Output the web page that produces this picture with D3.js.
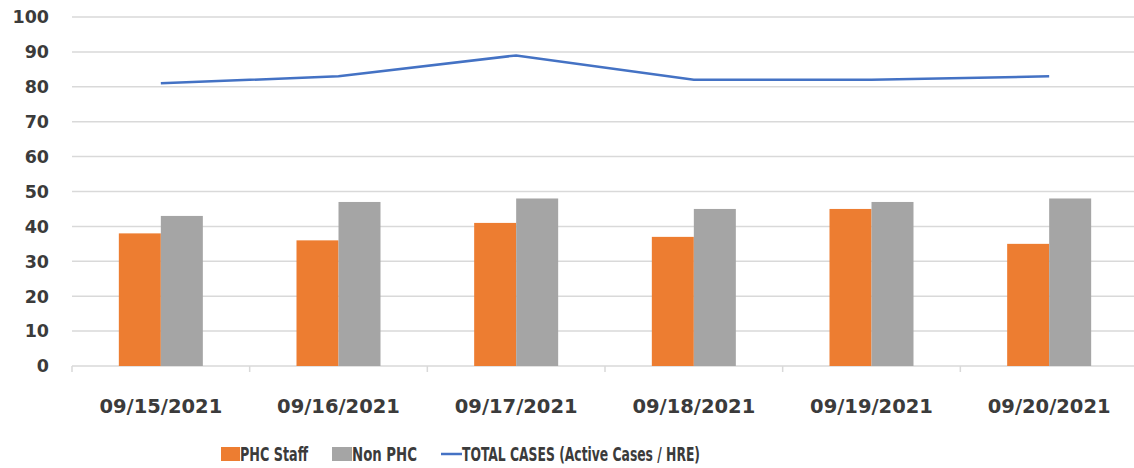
<!DOCTYPE html>
<html lang="en">
<head>
<meta charset="UTF-8">
<title>PHC cases</title>
<script src="https://d3js.org/d3.v7.min.js"></script>
<style>
  html, body { margin: 0; padding: 0; background: #fff; }
  svg { display: block; }
</style>
</head>
<body>
<div id="chart"></div>
<script>
// data
const dates = ["09/15/2021", "09/16/2021", "09/17/2021", "09/18/2021", "09/19/2021", "09/20/2021"];
const phcStaff = [38, 36, 41, 37, 45, 35];
const nonPhc = [43, 47, 48, 45, 47, 48];
const totalCases = [81, 83, 89, 82, 82, 83];
const yTicks = [0, 10, 20, 30, 40, 50, 60, 70, 80, 90, 100];
const seriesNames = ["PHC Staff", "Non PHC"];

const width = 1134, height = 468;
const plotLeft = 72, plotRight = 1138, plotTop = 17, plotBottom = 366;

const svg = d3.select("#chart").append("svg")
    .attr("width", width)
    .attr("height", height);

const x0 = d3.scaleBand().domain(dates).range([plotLeft, plotRight]).padding(0);
const x1 = d3.scaleBand().domain(seriesNames).range([0, x0.bandwidth()])
    .paddingInner(0).paddingOuter(1.115);
const y = d3.scaleLinear().domain([0, 100]).range([plotBottom, plotTop]);

// gridlines
svg.append("g")
    .selectAll("line")
    .data(yTicks)
    .enter().append("line")
    .attr("x1", plotLeft)
    .attr("x2", plotRight)
    .attr("y1", d => y(d))
    .attr("y2", d => y(d))
    .attr("stroke", "#d9d9d9")
    .attr("stroke-width", 1.5);

// y labels
svg.append("g")
    .selectAll("text")
    .data(yTicks)
    .enter().append("text")
    .attr("x", 49)
    .attr("y", d => y(d))
    .attr("dy", "0.36em")
    .attr("text-anchor", "end")
    .attr("font-family", "DejaVu Sans")
    .attr("font-weight", "bold")
    .attr("font-size", 17.5)
    .attr("fill", "#3b3b3b")
    .text(d => d);

// category tick marks on the baseline
const tickPos = dates.map(d => x0(d)).concat([plotRight]);
svg.append("g")
    .selectAll("line")
    .data(tickPos)
    .enter().append("line")
    .attr("x1", d => d)
    .attr("x2", d => d)
    .attr("y1", plotBottom)
    .attr("y2", plotBottom + 6)
    .attr("stroke", "#d9d9d9")
    .attr("stroke-width", 1.5);

// bars
const rows = dates.map((d, i) => ({ date: d, vals: [phcStaff[i], nonPhc[i]] }));
const colors = d3.scaleOrdinal().domain(seriesNames).range(["#ED7D31", "#A5A5A5"]);

svg.append("g")
    .selectAll("g")
    .data(rows)
    .enter().append("g")
    .attr("transform", d => `translate(${x0(d.date)},0)`)
    .selectAll("rect")
    .data(d => seriesNames.map((s, j) => ({ s, v: d.vals[j] })))
    .enter().append("rect")
    .attr("x", d => x1(d.s))
    .attr("width", x1.bandwidth())
    .attr("y", d => y(d.v))
    .attr("height", d => plotBottom - y(d.v))
    .attr("fill", d => colors(d.s));

// total cases line
const line = d3.line()
    .x((d, i) => x0(dates[i]) + x0.bandwidth() / 2)
    .y(d => y(d));

svg.append("path")
    .datum(totalCases)
    .attr("d", line)
    .attr("fill", "none")
    .attr("stroke", "#4472C4")
    .attr("stroke-width", 2.5);

// x labels
svg.append("g")
    .selectAll("text")
    .data(dates)
    .enter().append("text")
    .attr("x", d => x0(d) + x0.bandwidth() / 2)
    .attr("y", 406)
    .attr("dy", "0.36em")
    .attr("text-anchor", "middle")
    .attr("font-family", "DejaVu Sans")
    .attr("font-weight", "bold")
    .attr("font-size", 19.5)
    .attr("fill", "#3b3b3b")
    .text(d => d);

// legend
const legend = svg.append("g").attr("font-family", "DejaVu Sans Condensed, DejaVu Sans")
    .attr("font-weight", "bold")
    .attr("font-size", 20)
    .attr("fill", "#3b3b3b")
    .style("white-space", "pre");

legend.append("rect").attr("x", 221).attr("y", 447).attr("width", 19).attr("height", 14).attr("fill", "#ED7D31");
legend.append("text").attr("x", 240).attr("y", 454).attr("dy", "0.36em")
    .attr("textLength", 68).attr("lengthAdjust", "spacingAndGlyphs").text("PHC Staff");
legend.append("rect").attr("x", 332).attr("y", 447).attr("width", 20).attr("height", 14).attr("fill", "#A5A5A5");
legend.append("text").attr("x", 352).attr("y", 454).attr("dy", "0.36em")
    .attr("textLength", 65).attr("lengthAdjust", "spacingAndGlyphs").text("Non PHC");
legend.append("line").attr("x1", 441).attr("x2", 462).attr("y1", 454).attr("y2", 454)
    .attr("stroke", "#4472C4").attr("stroke-width", 2.5);
legend.append("text").attr("x", 462).attr("y", 454).attr("dy", "0.36em")
    .attr("textLength", 238).attr("lengthAdjust", "spacingAndGlyphs")
    .text("TOTAL CASES  (Active Cases / HRE)");
</script>
</body>
</html>
